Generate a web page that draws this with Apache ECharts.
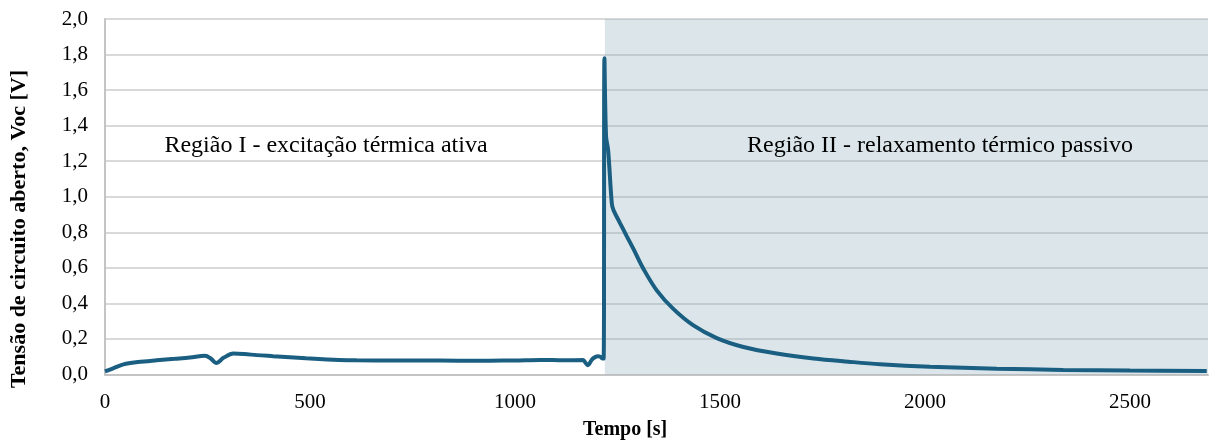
<!DOCTYPE html>
<html>
<head>
<meta charset="utf-8">
<script src="https://cdn.jsdelivr.net/npm/echarts@6/dist/echarts.min.js"></script>
<style>html,body{margin:0;padding:0;background:#fff}#c{width:1209px;height:441px}</style>
</head>
<body>
<div id="c"></div>
<script>
// Time [s]
var timeS = [0, 20, 45, 80, 126, 170, 207, 244, 258, 271, 290, 313, 340, 370, 410, 451, 490, 532, 570, 614,
  700, 776, 860, 939, 1000, 1061, 1120, 1166, 1172, 1178, 1185, 1190, 1202, 1208, 1212, 1216,
  1218, 1222, 1227, 1236, 1240, 1256, 1272, 1289, 1313, 1346, 1386, 1435, 1492, 1557, 1638, 1728,
  1813, 1890, 2012, 2175, 2337, 2500, 2687];
// Open-circuit voltage Voc [V]
var vocV = [0.017, 0.035, 0.057, 0.070, 0.080, 0.088, 0.095, 0.105, 0.090, 0.065, 0.095, 0.118, 0.115, 0.109, 0.103, 0.097, 0.091, 0.086, 0.082, 0.080,
  0.079, 0.079, 0.078, 0.078, 0.079, 0.082, 0.080, 0.081, 0.065, 0.052, 0.075, 0.090, 0.102, 0.100, 0.092, 0.090,
  1.779, 1.338, 1.263, 0.963, 0.925, 0.852, 0.780, 0.705, 0.595, 0.472, 0.369, 0.276, 0.205, 0.155, 0.118, 0.090,
  0.072, 0.058, 0.044, 0.033, 0.026, 0.022, 0.019];
var xTicks = [0, 500, 1000, 1500, 2000, 2500];
var yTicks = [0.0, 0.2, 0.4, 0.6, 0.8, 1.0, 1.2, 1.4, 1.6, 1.8, 2.0];
var xMax = 2690;
var region2Start = 1219;
var region1Label = 'Região I - excitação térmica ativa';
var region2Label = 'Região II - relaxamento térmico passivo';
var xTitle = 'Tempo [s]';
var yTitle = 'Tensão de circuito aberto, Voc [V]';

var serif = '"Liberation Serif", "Times New Roman", serif';
var chart = echarts.init(document.getElementById('c'));
var pts = timeS.map(function (t, i) { return [t, vocV[i]]; });

chart.setOption({
  animation: false,
  grid: { left: 105, right: 1, top: 19, bottom: 66.5, containLabel: false, outerBoundsMode: 'none' },
  xAxis: {
    type: 'value', min: 0, max: xMax, interval: 500,
    axisLine: { show: true, lineStyle: { color: '#c4c4c4', width: 2 } },
    axisTick: { show: false },
    splitLine: { show: false },
    axisLabel: {
      margin: 17, fontFamily: serif, fontSize: 21, color: '#000',
      showMaxLabel: true,
      formatter: function (v) { return xTicks.indexOf(v) >= 0 ? String(v) : ''; }
    }
  },
  yAxis: {
    type: 'value', min: 0, max: 2, interval: 0.2,
    axisLine: { show: true, lineStyle: { color: '#c4c4c4', width: 2 } },
    axisTick: { show: false },
    splitLine: { show: true, lineStyle: { color: '#d9d9d9', width: 2 } },
    axisLabel: {
      margin: 17, fontFamily: serif, fontSize: 21, color: '#000',
      formatter: function (v) {
        var t = yTicks.filter(function (y) { return Math.abs(y - v) < 1e-6; });
        return t.length ? t[0].toFixed(1).replace('.', ',') : '';
      }
    }
  },
  graphic: [
    { type: 'text', left: 583, top: 420, style: { text: xTitle, font: 'bold 20px ' + serif, fill: '#000' } },
    { type: 'text', x: 19, y: 229, rotation: Math.PI / 2, style: { text: yTitle, font: 'bold 22px ' + serif, fill: '#000', align: 'center', verticalAlign: 'middle' } },
    { type: 'text', x: 326, y: 146, style: { text: region1Label, font: '24px ' + serif, fill: '#000', align: 'center', verticalAlign: 'middle' }, z: 10 },
    { type: 'text', x: 940, y: 146, style: { text: region2Label, font: '24px ' + serif, fill: '#000', align: 'center', verticalAlign: 'middle' }, z: 10 }
  ],
  series: [{
    type: 'line',
    data: pts,
    showSymbol: false,
    smooth: 0.35,
    lineStyle: { color: '#1a5f82', width: 4 },
    z: 5,
    markArea: {
      silent: true,
      itemStyle: { color: 'rgba(131,165,183,0.29)' },
      data: [[{ xAxis: region2Start }, { xAxis: xMax }]]
    }
  }]
});
</script>
</body>
</html>
